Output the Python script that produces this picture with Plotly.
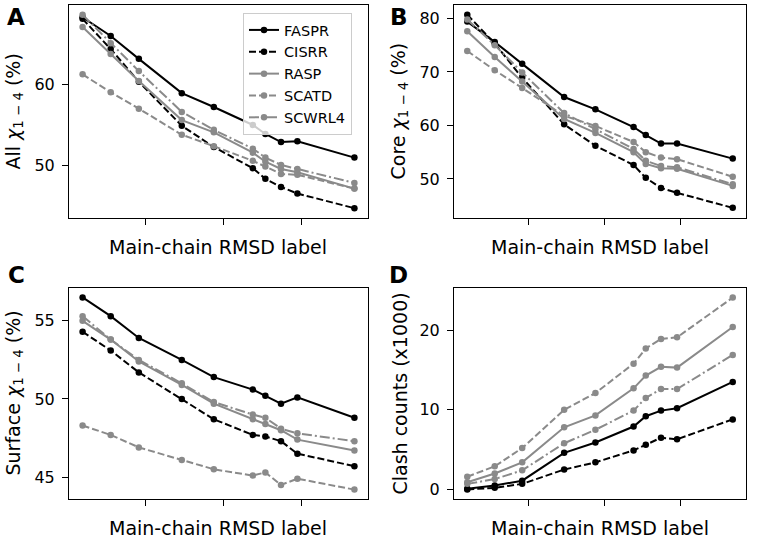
import plotly.graph_objects as go

# x positions of the ten main-chain RMSD bins (unlabelled axis)
rmsd_x = [0.2, 0.56, 0.92, 1.47, 1.88, 2.38, 2.54, 2.74, 2.95, 3.68]
x_ticks = [1, 2, 3]

methods = ["FASPR", "CISRR", "RASP", "SCATD", "SCWRL4"]

# Panel A: All chi1-4 (%)
all_faspr = [68.2, 65.9, 63.1, 58.9, 57.2, 55.0, 53.9, 52.9, 53.0, 51.0]
all_cisrr = [68.0, 64.3, 60.3, 54.9, 52.3, 49.7, 48.4, 47.4, 46.6, 44.8]
all_rasp = [67.0, 63.7, 60.4, 55.6, 54.1, 51.6, 50.5, 49.6, 49.2, 47.2]
all_scatd = [61.2, 59.0, 57.0, 53.8, 52.4, 50.6, 49.9, 49.0, 48.9, 47.2]
all_scwrl4 = [68.5, 65.0, 61.6, 56.6, 54.4, 52.1, 51.0, 50.1, 49.6, 47.9]

# Panel B: Core chi1-4 (%)
core_faspr = [79.4, 75.6, 71.5, 65.3, 63.0, 59.7, 58.2, 56.6, 56.6, 53.8]
core_cisrr = [80.7, 75.3, 68.9, 60.2, 56.2, 52.6, 50.2, 48.3, 47.4, 44.6]
core_rasp = [77.6, 72.8, 68.2, 61.2, 58.6, 55.0, 52.8, 52.0, 51.9, 48.7]
core_scatd = [73.9, 70.3, 67.0, 61.8, 59.9, 56.9, 55.0, 54.0, 53.7, 50.4]
core_scwrl4 = [79.8, 75.0, 69.9, 62.3, 59.3, 55.6, 53.4, 52.4, 52.2, 49.0]

# Panel C: Surface chi1-4 (%)
surf_faspr = [56.5, 55.3, 53.9, 52.5, 51.4, 50.6, 50.2, 49.7, 50.1, 48.8]
surf_cisrr = [54.3, 53.1, 51.7, 50.0, 48.7, 47.7, 47.6, 47.3, 46.5, 45.7]
surf_rasp = [55.0, 53.8, 52.4, 50.9, 49.7, 48.7, 48.4, 48.0, 47.4, 46.7]
surf_scatd = [48.3, 47.7, 46.9, 46.1, 45.5, 45.1, 45.3, 44.5, 44.9, 44.2]
surf_scwrl4 = [55.3, 53.8, 52.5, 51.0, 49.8, 49.0, 48.8, 48.1, 47.8, 47.3]

# Panel D: Clash counts (x1000)
clash_faspr = [0.1, 0.5, 1.1, 4.6, 5.9, 7.9, 9.2, 9.9, 10.2, 13.5]
clash_cisrr = [0.0, 0.2, 0.7, 2.5, 3.4, 4.9, 5.6, 6.5, 6.3, 8.8]
clash_rasp = [0.9, 2.0, 3.4, 7.8, 9.3, 12.7, 14.3, 15.4, 15.3, 20.4]
clash_scatd = [1.6, 2.9, 5.2, 10.0, 12.1, 15.8, 17.7, 18.9, 19.1, 24.1]
clash_scwrl4 = [0.7, 1.3, 2.4, 5.8, 7.5, 9.9, 11.5, 12.6, 12.6, 16.9]

panels = [
    [all_faspr, all_cisrr, all_rasp, all_scatd, all_scwrl4],
    [core_faspr, core_cisrr, core_rasp, core_scatd, core_scwrl4],
    [surf_faspr, surf_cisrr, surf_rasp, surf_scatd, surf_scwrl4],
    [clash_faspr, clash_cisrr, clash_rasp, clash_scatd, clash_scwrl4],
]
y_titles = ["All <i>χ</i><sub>1 − 4</sub> (%)", "Core <i>χ</i><sub>1 − 4</sub> (%)",
            "Surface <i>χ</i><sub>1 − 4</sub> (%)", "Clash counts (x1000)"]
y_tickvals = [[50, 60], [50, 60, 70, 80], [45, 50, 55], [0, 10, 20]]
y_ranges = [[43.6, 69.7], [42.7, 82.5], [43.6, 57.1], [-1.2, 25.3]]
letters = ["A", "B", "C", "D"]
x_label = "Main-chain RMSD label"

GRAY = "#8a8a8a"
colors = ["black", "black", GRAY, GRAY, GRAY]
dashes = ["solid", "7px,3px", "solid", "7px,3px", "10px,3px,2px,3px"]

W, H = 760, 540
# plot-area pixel boxes (left, right, top, bottom)
boxes = [(69, 368, 5, 218), (454, 746, 5, 218), (69, 368, 288, 499), (454, 746, 288, 499)]
# panel-letter centres in pixels
letter_pos = [(16, 17), (399, 17), (16, 275), (398, 275)]

fig = go.Figure()
FONT = "DejaVu Sans"
layout = dict(
    template="none",
    width=W, height=H,
    margin=dict(l=0, r=0, t=0, b=0, pad=0),
    paper_bgcolor="white", plot_bgcolor="white",
    font=dict(family=FONT, color="black", size=16),
    showlegend=True,
    legend=dict(
        x=243 / W, y=1 - 13 / H, xanchor="left", yanchor="top",
        bgcolor="rgba(255,255,255,0.8)", bordercolor="#cccccc", borderwidth=1,
        font=dict(family=FONT, size=14.5, color="black"),
        itemwidth=30, tracegroupgap=0,
    ),
)
annotations = []
for i, series in enumerate(panels):
    xa = "x" if i == 0 else f"x{i+1}"
    ya = "y" if i == 0 else f"y{i+1}"
    for j, vals in enumerate(series):
        fig.add_trace(go.Scatter(
            x=rmsd_x, y=vals, mode="lines+markers", name=methods[j],
            xaxis=xa, yaxis=ya, legendgroup=methods[j], showlegend=(i == 0),
            line=dict(color=colors[j], width=2, dash=dashes[j]),
            marker=dict(color=colors[j], size=6.5),
        ))
    l, r, t, b = boxes[i]
    axcommon = dict(showline=True, mirror=True, linecolor="black", linewidth=1,
                    showgrid=False, zeroline=False, ticks="outside", ticklen=6,
                    tickwidth=1, tickcolor="black", automargin=False)
    layout["xaxis" if i == 0 else f"xaxis{i+1}"] = dict(
        axcommon, domain=[l / W, r / W], anchor=ya, range=[0.026, 3.854],
        tickvals=x_ticks, showticklabels=False)
    layout["yaxis" if i == 0 else f"yaxis{i+1}"] = dict(
        axcommon, domain=[1 - b / H, 1 - t / H], anchor=xa, range=y_ranges[i],
        tickvals=y_tickvals[i], tickfont=dict(size=16), ticklabelstandoff=4)
    cx = (l + r) / 2
    cy = (t + b) / 2
    annotations.append(dict(x=cx / W, y=1 - (b + 29) / H, xref="paper", yref="paper",
                            text=x_label, showarrow=False, font=dict(size=19),
                            xanchor="center", yanchor="middle"))
    annotations.append(dict(x=(l - 55) / W, y=1 - cy / H, xref="paper", yref="paper",
                            text=y_titles[i], showarrow=False, textangle=-90,
                            font=dict(size=19), xanchor="center", yanchor="middle"))
    lx, ly = letter_pos[i]
    annotations.append(dict(x=lx / W, y=1 - ly / H, xref="paper", yref="paper",
                            text="<b>" + letters[i] + "</b>", showarrow=False,
                            font=dict(size=23), xanchor="center", yanchor="middle"))

layout["annotations"] = annotations
fig.update_layout(**layout)
fig.write_html("out.html", config={"displayModeBar": False},
               post_script="document.body.style.margin='0px';document.body.style.overflow='hidden';")
